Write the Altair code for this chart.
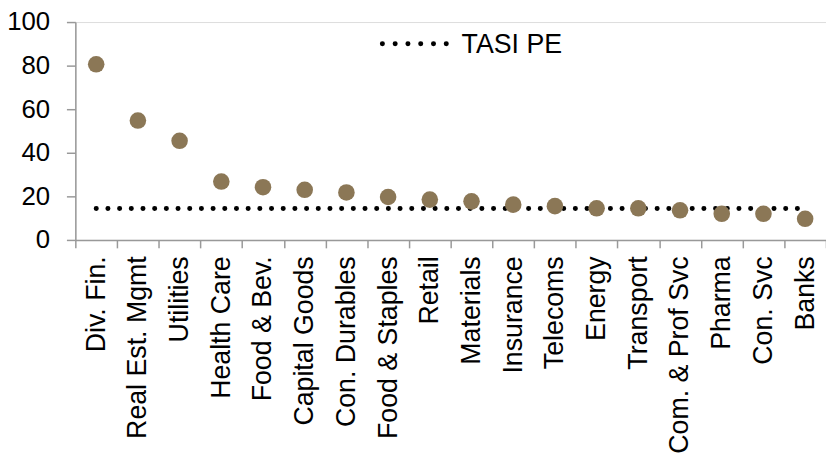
import altair as alt
import pandas as pd

sectors = ["Div. Fin.", "Real Est. Mgmt", "Utilities", "Health Care", "Food & Bev.",
           "Capital Goods", "Con. Durables", "Food & Staples", "Retail", "Materials",
           "Insurance", "Telecoms", "Energy", "Transport", "Com. & Prof Svc",
           "Pharma", "Con. Svc", "Banks"]
pe = [80.6, 54.8, 45.5, 26.8, 24.2, 23.0, 21.8, 19.7, 18.5, 17.7,
      16.2, 15.5, 14.5, 14.5, 13.6, 12.0, 12.0, 9.7]
tasi_pe = [14.4] * len(sectors)
legend_label = ["TASI PE"]

df = pd.DataFrame({"sector": sectors, "pe": pe, "tasi": tasi_pe})
FONT = "Liberation Sans"

x_enc = alt.X("sector:N", sort=sectors, title=None,
              scale=alt.Scale(paddingInner=0, paddingOuter=0),
              axis=alt.Axis(labelAngle=270, labelAlign="right", labelBaseline="middle",
                            tickBand="extent", tickSize=8, labelPadding=8,
                            domainColor="#999999", tickColor="#999999",
                            domainWidth=1.5, tickWidth=1.5,
                            labelFont=FONT, labelFontSize=27, labelColor="#000000",
                            labelOverlap=False, labelLimit=0))
y_enc = alt.Y("pe:Q", title=None,
              scale=alt.Scale(domain=[0, 100], nice=False, zero=True),
              axis=alt.Axis(values=[0, 20, 40, 60, 80, 100], grid=False, tickSize=9,
                            labelPadding=17, domainColor="#999999", tickColor="#999999",
                            domainWidth=1.5, tickWidth=1.5,
                            labelFont=FONT, labelFontSize=26, labelColor="#000000"))

base = alt.Chart(df)
line = base.mark_line(color="#000000", strokeWidth=5, strokeDash=[0.1, 11.7],
                      strokeCap="round").encode(x=x_enc, y=alt.Y("tasi:Q"))
points = base.mark_circle(size=280, color="#8B7756", opacity=1).encode(x=x_enc, y=y_enc)

leg_df = pd.DataFrame({"label": legend_label})
leg_line = alt.Chart(leg_df).mark_rule(color="#000000", strokeWidth=5,
                                       strokeDash=[0.1, 12.8], strokeCap="round").encode(
    x=alt.value(310), x2=alt.value(376), y=alt.value(22))
leg_text = alt.Chart(leg_df).mark_text(align="left", baseline="middle", font=FONT,
                                       fontSize=27, color="#000000").encode(
    text="label:N", x=alt.value(390), y=alt.value(23))

chart = alt.layer(line, points, leg_line, leg_text).properties(
    width=758, height=220,
    autosize=alt.AutoSizeParams(type="none"),
    padding={"left": 68, "top": 12, "right": 0, "bottom": 217},
).configure_view(stroke=None).configure(background="#ffffff")

chart.save("out.html", embed_options={"renderer": "svg", "actions": False})
